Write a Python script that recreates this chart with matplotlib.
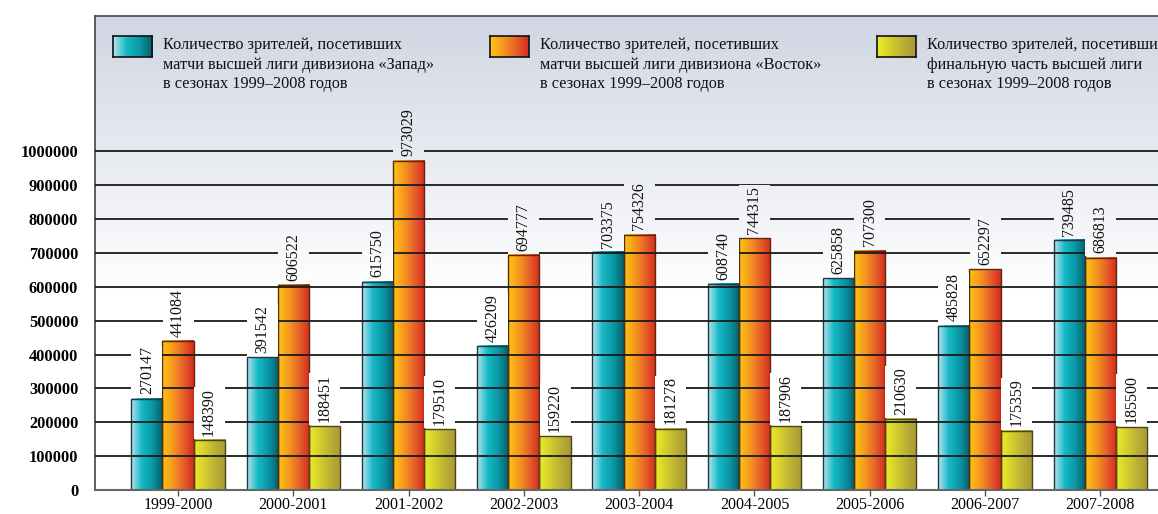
import numpy as np
import matplotlib
matplotlib.use('Agg')
import matplotlib.pyplot as plt
from matplotlib.colors import LinearSegmentedColormap

seasons = ['1999-2000', '2000-2001', '2001-2002', '2002-2003', '2003-2004',
           '2004-2005', '2005-2006', '2006-2007', '2007-2008']
west = [270147, 391542, 615750, 426209, 703375, 608740, 625858, 485828, 739485]
east = [441084, 606522, 973029, 694777, 754326, 744315, 707300, 652297, 686813]
final = [148390, 188451, 179510, 159220, 181278, 187906, 210630, 175359, 185500]
legend_labels = [
    'Количество зрителей, посетивших\nматчи высшей лиги дивизиона «Запад»\nв сезонах 1999–2008 годов',
    'Количество зрителей, посетивших\nматчи высшей лиги дивизиона «Восток»\nв сезонах 1999–2008 годов',
    'Количество зрителей, посетивших\nфинальную часть высшей лиги\nв сезонах 1999–2008 годов',
]

plt.rcParams['font.family'] = ['Liberation Serif', 'DejaVu Serif']

teal = LinearSegmentedColormap.from_list('teal', ['#b5e3ee', '#16b9c6', '#0a98a6', '#05606c'])
orange = LinearSegmentedColormap.from_list('orange', ['#fdc414', '#f59a1e', '#e8622a', '#d42a1e'])
yellow = LinearSegmentedColormap.from_list('yellow', ['#ecec2a', '#d4cf2c', '#bcb034', '#a89a36'])
bg = LinearSegmentedColormap.from_list('bg', [(0, 'white'), (0.42, 'white'), (1, '#d0d6e2')])
hgrad = np.linspace(0, 1, 64)[None, :]

YMAX = 1400000
XMIN, XMAX = -0.72, 8.5
fig = plt.figure(figsize=(11.58, 5.14), dpi=100)
ax = fig.add_axes([0.082, 0.0467, 0.918, 0.922])
ax.set_xlim(XMIN, XMAX)
ax.set_ylim(0, YMAX)

# background gradient
ax.imshow(np.linspace(YMAX, 0, 200)[:, None], cmap=bg, vmin=0, vmax=YMAX,
          extent=[XMIN, XMAX, 0, YMAX], aspect='auto', zorder=0)

# grid lines on top of bars
for yv in range(100000, 1000001, 100000):
    ax.axhline(yv, color='#1a1a1a', lw=1.3, zorder=3)

w = 0.27
x = np.arange(len(seasons))
box_h = 155000
for offs, vals, cm, ec in [(-w, west, teal, '#1e3a40'), (0, east, orange, '#5a2a10'),
                           (w, final, yellow, '#4a4418')]:
    bars = ax.bar(x + offs, vals, width=w, facecolor='none', edgecolor=ec, lw=1.0, zorder=2.5)
    for b, v in zip(bars, vals):
        x0, x1 = b.get_x(), b.get_x() + b.get_width()
        ax.imshow(hgrad, cmap=cm, extent=[x0, x1, 0, v], aspect='auto', zorder=2)
        # label box in background colour, breaking the grid lines
        ax.imshow(np.linspace(v + box_h, v, 50)[:, None], cmap=bg, vmin=0, vmax=YMAX,
                  extent=[x0 + 0.001, x1 - 0.001, v + 3000, v + box_h], aspect='auto', zorder=3.5)
        ax.annotate(str(v), (b.get_x() + w / 2, v), xytext=(0, 3), textcoords='offset points',
                    rotation=90, ha='center', va='bottom', fontsize=11.5, color='#111', zorder=4)

ax.set_xlim(XMIN, XMAX)
ax.set_ylim(0, YMAX)
ax.set_xticks(x)
ax.set_xticklabels(seasons, fontsize=11.5)
ax.set_yticks(range(0, 1000001, 100000))
ax.set_yticklabels([str(v) for v in range(0, 1000001, 100000)], fontsize=11.8, fontweight='bold')
ax.tick_params(axis='y', length=0, pad=12)
ax.tick_params(axis='x', length=4, width=1, color='#555', pad=1)
for s in ['left', 'top']:
    ax.spines[s].set_color('#444')
    ax.spines[s].set_linewidth(1.2)
ax.spines['bottom'].set_color('#666')
ax.spines['bottom'].set_linewidth(1.5)
ax.spines['right'].set_visible(False)

# legend
for (px, cm, ec), lab in zip([(113, teal, '#1e3a40'), (490, orange, '#5a2a10'),
                              (877, yellow, '#4a4418')], legend_labels):
    la = fig.add_axes([px / 1158, 1 - 57 / 514, 39 / 1158, 21 / 514])
    la.imshow(hgrad, cmap=cm, aspect='auto')
    la.set_xticks([])
    la.set_yticks([])
    for s in la.spines.values():
        s.set_color('#111')
        s.set_linewidth(1.2)
    fig.text((px + 50) / 1158, 1 - 37 / 514, lab, fontsize=11.7, va='top', ha='left',
             linespacing=1.3, color='#111')

fig.savefig('out.png', dpi=100)
